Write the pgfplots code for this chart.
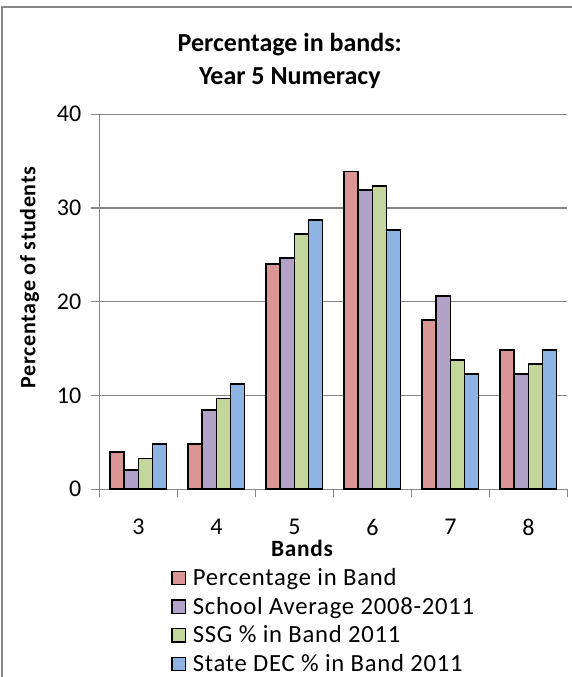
\documentclass[border=0pt]{standalone}
\usepackage{fontspec}
\setmainfont{Carlito}
\newfontfamily\wideface{Carlito}[LetterSpace=3]
\usepackage{pgfplots}
\pgfplotsset{compat=1.18}

\definecolor{bandred}{RGB}{217,150,148}
\definecolor{bandpurple}{RGB}{179,162,199}
\definecolor{bandgreen}{RGB}{195,214,155}
\definecolor{bandblue}{RGB}{142,180,227}
\definecolor{axisgrey}{RGB}{134,134,134}

\begin{document}
\begin{tikzpicture}
\useasboundingbox (0,0) rectangle (428.25pt,507.75pt);
% chart frame (only left and top edges fall inside the picture)
\draw[axisgrey, line width=1.5pt] (1.5pt,-5pt) -- (1.5pt,502.5pt) -- (440pt,502.5pt);
\begin{axis}[
    at={(74.5pt,140.8pt)}, anchor=south west,
    scale only axis, width=351pt, height=281.25pt,
    ybar=0pt, bar width=0.18,
    legend image code/.code={\draw[#1,line width=1pt] (0pt,-5pt) rectangle (10pt,5pt);},
    xmin=-0.5, xmax=5.5, ymin=0, ymax=40,
    xtick={0,...,5}, xticklabels={3,4,5,6,7,8},
    minor xtick={-0.5,0.5,...,5.5},
    ytick={0,10,...,40},
    axis lines*=left,
    axis line style={axisgrey, line width=1.1pt},
    tick align=outside,
    major tick length=6pt, minor tick length=6pt,
    major x tick style={draw=none},
    minor x tick style={axisgrey, line width=1.1pt},
    major y tick style={axisgrey, line width=1.1pt},
    ymajorgrids, grid style={axisgrey, line width=1.1pt},
    /pgf/number format/assume math mode=true,
    tick label style={font=\fontsize{18}{20}\selectfont},
    xticklabel style={yshift=-13pt},
    yticklabel style={xshift=-4pt},
    title={Percentage in bands:\\Year 5 Numeracy},
    title style={font=\bfseries\fontsize{19.5}{24.75}\selectfont, align=center,
        at={(axis description cs:0.407,1.12)}, anchor=center},
    xlabel={Bands},
    xlabel style={font=\wideface\bfseries\fontsize{17.5}{19}\selectfont,
        at={(axis description cs:0.433,-0.159)}, anchor=center},
    ylabel={Percentage of students},
    ylabel style={font=\wideface\bfseries\fontsize{16.5}{18}\selectfont,
        at={(axis description cs:-0.149,0.565)}, anchor=center, rotate=0},
    legend style={at={(axis description cs:0.145,-0.196)}, anchor=north west,
        draw=none, fill=none, font=\wideface\fontsize{18.5}{20}\selectfont,
        row sep=3.2pt,
        /tikz/every odd column/.append style={column sep=3pt}},
    legend cell align=left,
]
\addplot[fill=bandred, draw=black, line width=1.2pt] coordinates
    {(0,4.0) (1,4.84) (2,24.04) (3,33.88) (4,18.06) (5,14.86)};
\addplot[fill=bandpurple, draw=black, line width=1.2pt] coordinates
    {(0,2.06) (1,8.46) (2,24.64) (3,31.93) (4,20.62) (5,12.3)};
\addplot[fill=bandgreen, draw=black, line width=1.2pt] coordinates
    {(0,3.3) (1,9.7) (2,27.24) (3,32.36) (4,13.8) (5,13.37)};
\addplot[fill=bandblue, draw=black, line width=1.2pt] coordinates
    {(0,4.84) (1,11.24) (2,28.73) (3,27.66) (4,12.3) (5,14.86)};
\legend{Percentage in Band, School Average 2008-2011, SSG \% in Band 2011, State DEC \% in Band 2011}
\end{axis}
\end{tikzpicture}
\end{document}
